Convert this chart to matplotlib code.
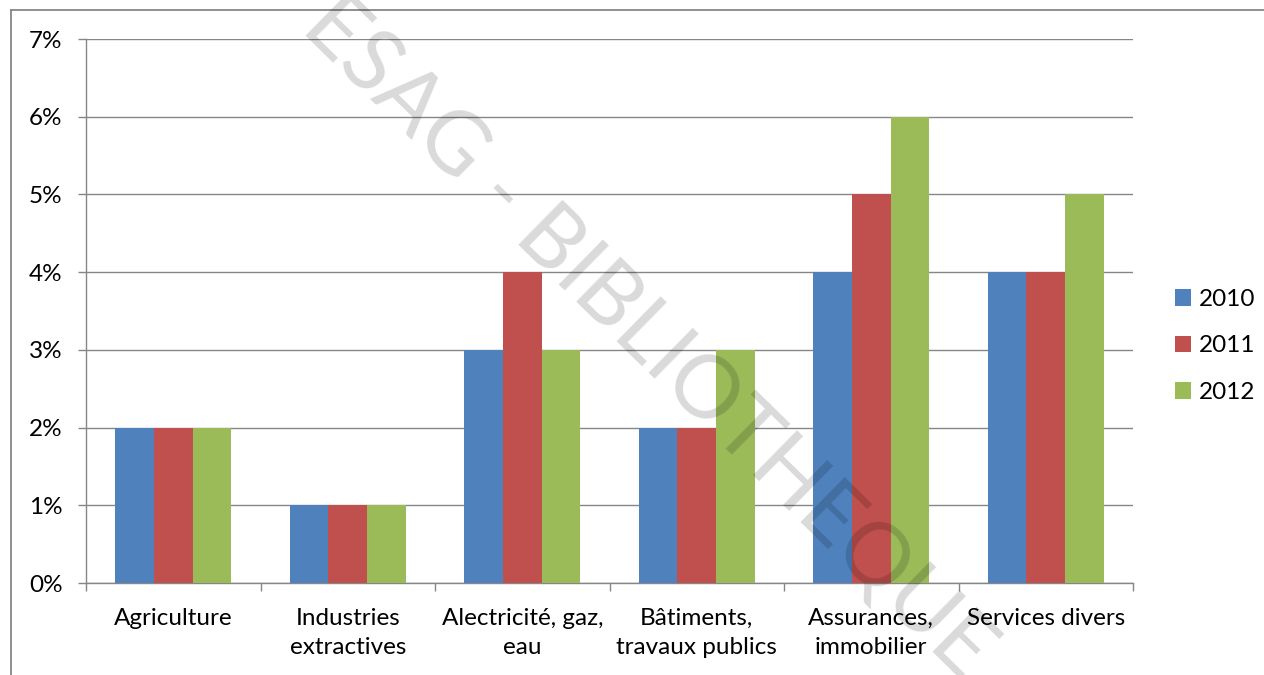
import numpy as np
import matplotlib
matplotlib.use('Agg')
import matplotlib.pyplot as plt
from matplotlib.patches import Patch
from matplotlib.ticker import FuncFormatter, FixedLocator

# Data
categories = ['Agriculture', 'Industries\nextractives', 'Alectricité, gaz,\neau',
              'Bâtiments,\ntravaux publics', 'Assurances,\nimmobilier', 'Services divers']
years = ['2010', '2011', '2012']
v2010 = [2, 1, 3, 2, 4, 4]
v2011 = [2, 1, 4, 2, 5, 4]
v2012 = [2, 1, 3, 3, 6, 5]
colors = ['#4F81BD', '#C0504D', '#9BBB59']

plt.rcParams['font.family'] = ['Lato', 'DejaVu Sans']
grey = '#868686'
fs = 17.5

fig = plt.figure(figsize=(12.64, 6.75), dpi=100)
ax = fig.add_axes([86/1264, 1-583/675, (1133-86)/1264, (583-39)/675])

x = np.arange(len(categories))
w = 1/4.5
for i, vals in enumerate([v2010, v2011, v2012]):
    ax.bar(x + (i-1)*w, vals, width=w, color=colors[i], zorder=3)

ax.set_xlim(-0.5, len(categories)-0.5)
ax.set_ylim(0, 7)
ax.set_yticks(range(0, 8))
ax.yaxis.set_major_formatter(FuncFormatter(lambda v, p: '%d%%' % v))
ax.grid(axis='y', color=grey, linewidth=1.0, zorder=0)

ax.set_xticks(x)
ax.set_xticklabels(categories, fontsize=fs, linespacing=1.45)
ax.xaxis.set_minor_locator(FixedLocator(np.arange(-0.5, len(categories), 1)))
ax.tick_params(axis='x', which='major', length=0, pad=18)
ax.tick_params(axis='x', which='minor', length=6, width=1.0, color=grey)
ax.tick_params(axis='y', length=6, width=1.0, color=grey, labelsize=fs, pad=11)

for s in ['top', 'right']:
    ax.spines[s].set_visible(False)
for s in ['left', 'bottom']:
    ax.spines[s].set_color(grey)
    ax.spines[s].set_linewidth(1.0)

handles = [Patch(facecolor=c, edgecolor='none') for c in colors]
fig.legend(handles, years, loc='center left', bbox_to_anchor=(1153/1264, 1-346/675),
           frameon=False, fontsize=fs, handlelength=0.65, handleheight=0.65,
           handletextpad=0.35, labelspacing=1.05)

# outer chart frame (cropped at right and bottom)
fig.add_artist(plt.Line2D([11/1264, 11/1264], [-0.1, 1-10/675], color=grey, linewidth=1.3,
                          transform=fig.transFigure))
fig.add_artist(plt.Line2D([11/1264, 1.1], [1-10/675, 1-10/675], color=grey, linewidth=1.3,
                          transform=fig.transFigure))

# watermark
fig.text(648/1264, 1-338/675, 'ESAG - BIBLIOTHEQUE', fontsize=63, color='black', alpha=0.15,
         rotation=-44.5, ha='center', va='center', rotation_mode='anchor', zorder=10,
         family=['Lato', 'DejaVu Sans'], fontweight='normal')

fig.savefig('out.png', dpi=100)
